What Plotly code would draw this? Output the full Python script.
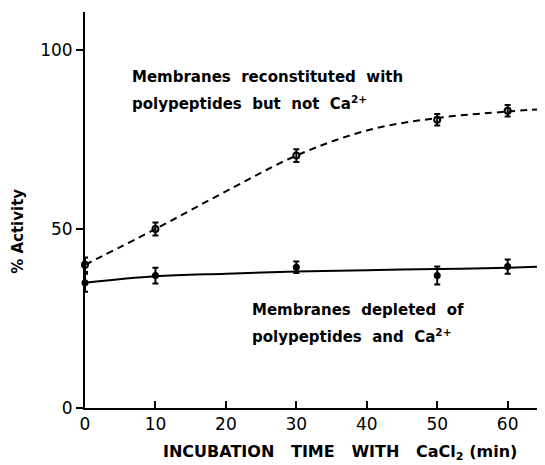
import plotly.graph_objects as go

# Data
time_min = [0, 10, 30, 50, 60]
reconst_activity = [40, 50, 70.5, 80.5, 83]
reconst_err = [2, 1.8, 1.8, 1.6, 1.6]
depleted_activity = [35, 37, 39.3, 37, 39.5]
depleted_err = [2.5, 2.2, 1.6, 2.5, 2]

fit_time = [0, 10, 20, 30, 40, 50, 60, 65]
reconst_fit = [40, 50, 60.5, 70.5, 77.5, 81, 82.8, 83.5]
depleted_fit = [35, 36.8, 37.5, 38.1, 38.5, 38.8, 39.2, 39.5]

annot_reconst = ["Membranes  reconstituted  with", "polypeptides  but  not  Ca<sup>2+</sup>"]
annot_depleted = ["Membranes  depleted  of", "polypeptides  and  Ca<sup>2+</sup>"]
x_title = "INCUBATION   TIME   WITH   CaCl<sub>2</sub> (min)"
y_title = "% Activity"

FONT = "DejaVu Sans"

fig = go.Figure()
fig.add_trace(go.Scatter(x=fit_time, y=reconst_fit, mode="lines", line_shape="spline",
                         line=dict(color="black", width=2, dash="7px,5px"), showlegend=False))
fig.add_trace(go.Scatter(x=fit_time, y=depleted_fit, mode="lines", line_shape="spline",
                         line=dict(color="black", width=2), showlegend=False))
fig.add_trace(go.Scatter(x=time_min, y=reconst_activity, mode="markers",
                         marker=dict(symbol="circle-open", size=6, color="black", line=dict(width=2)),
                         error_y=dict(type="data", array=reconst_err, color="black", thickness=2, width=3),
                         showlegend=False, cliponaxis=False))
fig.add_trace(go.Scatter(x=time_min, y=depleted_activity, mode="markers",
                         marker=dict(symbol="circle", size=7, color="black"),
                         error_y=dict(type="data", array=depleted_err, color="black", thickness=2, width=3),
                         showlegend=False, cliponaxis=False))

for i, t in enumerate(annot_reconst):
    fig.add_annotation(x=6.4, y=92.5 - i * 7.3, text=t, showarrow=False, xanchor="left", yanchor="middle",
                       font=dict(family=FONT, size=15, color="black", weight="bold"))
for i, t in enumerate(annot_depleted):
    fig.add_annotation(x=23.4, y=27.4 - i * 7.4, text=t, showarrow=False, xanchor="left", yanchor="middle",
                       font=dict(family=FONT, size=15, color="black", weight="bold"))

# axis titles as annotations (placed like the reference)
fig.add_annotation(x=0.554, y=-0.112, xref="paper", yref="paper", text=x_title, showarrow=False,
                   xanchor="center", yanchor="middle",
                   font=dict(family=FONT, size=16, color="black", weight="bold"))
fig.add_annotation(x=-0.146, y=0.447, xref="paper", yref="paper", text=y_title, showarrow=False,
                   textangle=-90, xanchor="center", yanchor="middle",
                   font=dict(family=FONT, size=15, color="black", weight="bold"))

fig.update_layout(
    width=537, height=457,
    margin=dict(l=77, r=0, t=4, b=57),
    paper_bgcolor="white", plot_bgcolor="white",
    font=dict(family=FONT, color="black", size=17),
    xaxis=dict(range=[0, 65.3], tickvals=[0, 10, 20, 30, 40, 50, 60], ticks="inside", ticklen=7,
               tickwidth=2, tickcolor="black", showline=True, linecolor="black", linewidth=2,
               showgrid=False, zeroline=False, tickfont=dict(size=17)),
    yaxis=dict(range=[0, 110.6], tickvals=[0, 50, 100], ticks="outside", ticklen=7,
               tickwidth=2, tickcolor="black", showline=True, linecolor="black", linewidth=2,
               showgrid=False, zeroline=False, tickfont=dict(size=17)),
)

fig.write_html("out.html")
